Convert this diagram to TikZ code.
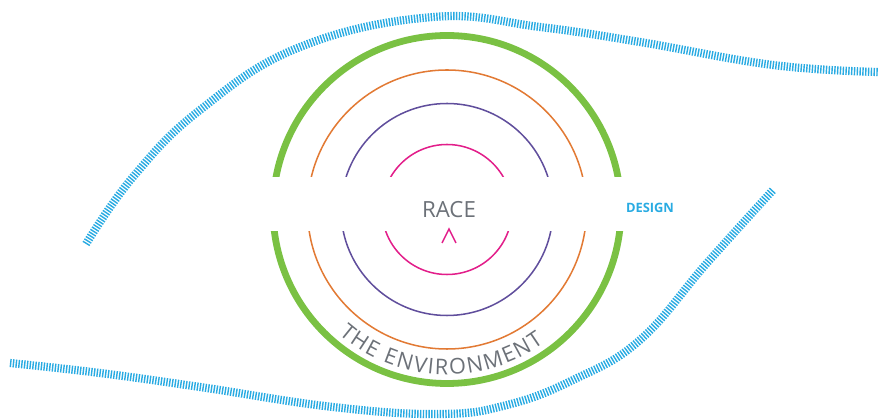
\documentclass[tikz,border=0pt]{standalone}
\usepackage{fontspec}
\setmainfont{Open Sans}
\usetikzlibrary{calc,decorations.text}
\definecolor{RingGreen}{RGB}{122,193,67}
\definecolor{RingOrange}{RGB}{226,122,52}
\definecolor{RingPurple}{RGB}{96,78,156}
\definecolor{RingPink}{RGB}{226,30,138}
\definecolor{SkyBlue}{RGB}{41,171,226}
\definecolor{TextGray}{RGB}{108,113,120}

\begin{document}
\begin{tikzpicture}[x=0.3mm,y=0.3mm,
  hatch/.style={SkyBlue,line width=7pt,dash pattern=on 1.2pt off 1.2pt},
  ring/.style={line width=1.3pt}]
  \useasboundingbox (0,0) rectangle (878,420);
  \coordinate (c) at (447,210.5);
  % upper halves of the rings
  \begin{scope}
    \clip (0,243) rectangle (878,420);
    \draw[RingGreen,line width=5.8pt] (c) circle (174);
    \foreach \r/\col in {139.5/RingOrange,106/RingPurple,65/RingPink}
      \draw[ring,\col] (c) circle (\r);
  \end{scope}
  % lower halves
  \begin{scope}
    \clip (0,0) rectangle (878,188);
    \draw[RingGreen,line width=5.8pt] (c) circle (174);
    \foreach \r/\col in {139.5/RingOrange,106/RingPurple,65/RingPink}
      \draw[ring,\col] (c) circle (\r);
  \end{scope}
  \node[TextGray,font=\fontsize{19}{21}\selectfont] (race) at (449,210.5) {RACE};
  \draw[ring,RingPink] (442,177) -- (449,191) -- (456,177);
  \node[SkyBlue,font=\bfseries\fontsize{11}{13}\selectfont] (design) at (650,212) {DESIGN};
  \path[decorate,decoration={text along path,text align=fit to path,
      text={|\fontsize{18.5}{21}\selectfont\color{TextGray}|THE ENVIRONMENT}}]
    ($(c)+(229:165)$) arc (229:306:165);
  % the two lids
  \draw[hatch] plot[smooth,tension=.7] coordinates {(86,176) (133,243) (200,310)
    (300,373) (433,403) (540,393) (640,378) (773,355) (878,348)};
  \draw[hatch] plot[smooth,tension=.7] coordinates {(10,57) (100,47) (200,33)
    (333,13) (440,6) (507,15) (573,40) (640,80) (707,157) (773,230)};
\end{tikzpicture}
\end{document}
